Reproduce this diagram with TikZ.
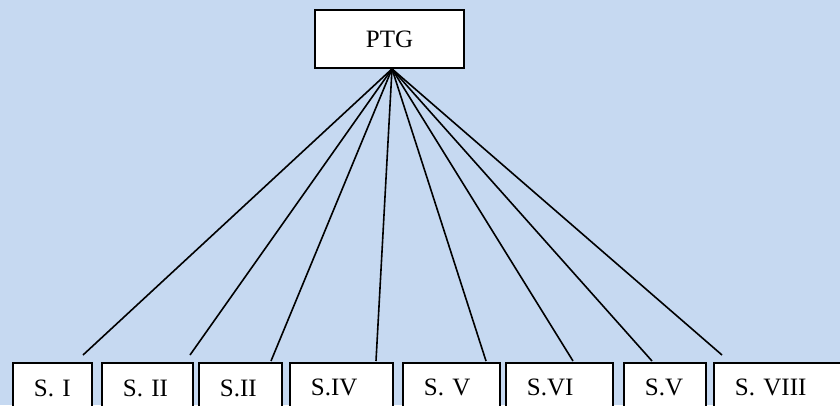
\documentclass[tikz,border=0pt]{standalone}
\usepackage{fontspec}
\setmainfont{Liberation Serif}
\definecolor{bgblue}{HTML}{C6D9F1}
\tikzstyle{box}=[draw, fill=white, line width=1.8pt, font=\fontsize{25}{30}\selectfont]
\tikzstyle{sbox}=[box, anchor=north west, minimum height=50pt, inner xsep=21pt, inner ysep=2pt, align=left]
\tikzstyle{branch}=[line width=1.6pt]

\begin{document}
\begin{tikzpicture}[x=1pt,y=-1pt]
		%\draw[help lines] (0,0) grid[step=20] (840,405);
		\useasboundingbox (0,0) rectangle (840,405);
		\clip (0,0) rectangle (840,405);
		\fill[bgblue] (0,0) rectangle (840,405);%background
		
		\node[box, minimum width=149pt, minimum height=58pt] (ptg) at (389.5,39) {PTG};%root
		
		%sections along the bottom
		\foreach \name/\x/\w/\lab in {s1/12/79/S. I, s2/101/91/S. II, s3/198/83/S.II, s4/289/103/S.IV,
				s5/402/97/S. V, s6/505/107/S.VI, s7/623/82/S.V, s8/713/140/S. VIII}{
			\pgfmathsetmacro\tw{\w-42}
			\node[sbox, text width=\tw pt] (\name) at (\x,362) {\lab};
		}
		
		%loose ends of the branches
		\coordinate (e1) at (83,355);
		\coordinate (e2) at (190,355);
		\coordinate (e3) at (271,361);
		\coordinate (e4) at (376,361);
		\coordinate (e5) at (486,361);
		\coordinate (e6) at (573,361);
		\coordinate (e7) at (652,361);
		\coordinate (e8) at (722,355);
		
		\foreach \i in {1,...,8}
			\draw[branch] ([xshift=2.5pt]ptg.south) -- (e\i);%branches
		\end{tikzpicture}
\end{document}
